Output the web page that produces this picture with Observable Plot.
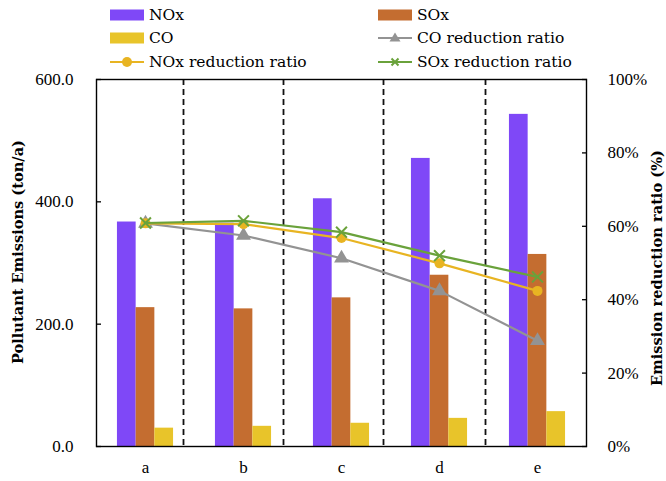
<!DOCTYPE html>
<html><head><meta charset="utf-8">
<script src="https://cdn.jsdelivr.net/npm/d3@7"></script>
<script src="https://cdn.jsdelivr.net/npm/@observablehq/plot@0.6"></script>
<style>
body{margin:0;background:#fff;font-family:"DejaVu Serif",serif;}
#legend{position:relative;width:666px;height:70px;}
.item{position:absolute;display:flex;align-items:center;height:20px;font-size:15.5px;color:#000;white-space:nowrap;}
.item span{margin-left:5px;}
</style></head><body>
<div id="legend"></div><div id="chart"></div>
<script>
// ---- data ----
const categories = ["a", "b", "c", "d", "e"];
const noxEmissions = [367, 365, 405, 471, 543];
const soxEmissions = [227, 225, 243, 280, 314];
const coEmissions = [30, 33, 38, 46, 57];
const noxRatio = [60.8, 60.6, 56.8, 49.9, 42.4];
const soxRatio = [60.9, 61.5, 58.4, 52.0, 46.2];
const coRatio = [60.8, 57.5, 51.3, 42.4, 28.8];
const leftTicks = [0, 200, 400, 600];
const rightTicks = [0, 20, 40, 60, 80, 100];
const seriesNames = ["NOx", "SOx", "CO", "CO reduction ratio", "NOx reduction ratio", "SOx reduction ratio"];

// ---- styles ----
const colors = {nox: "#7f48f7", sox: "#c46d30", co: "#e8c42a", coR: "#939393", noxR: "#e8b422", soxR: "#6aa23b"};
const W = 666, H = 411, mL = 96, mR = 80, mT = 9, mB = 35;
const ratioScale = 600 / 100; // right axis 0–100% mapped onto left 0–600
const bandW = (W - mL - mR) / categories.length;
const barW = 18.7;
const groupStart = bandW / 2 - 1.5 * barW;
const dividerDx = [38, 40, 42, 46];

const rows = categories.map((c, i) => ({
  cat: c, nox: noxEmissions[i], sox: soxEmissions[i], co: coEmissions[i],
  noxR: noxRatio[i], soxR: soxRatio[i], coR: coRatio[i]
}));

const barSeries = [
  {key: "nox", fill: colors.nox},
  {key: "sox", fill: colors.sox},
  {key: "co", fill: colors.co}
];
const lineSeries = [
  {key: "coR", stroke: colors.coR, symbol: "triangle", r: 5.5, marker: "fill"},
  {key: "noxR", stroke: colors.noxR, symbol: "circle", r: 5, marker: "fill"},
  {key: "soxR", stroke: colors.soxR, symbol: "times", r: 5, marker: "stroke"}
];

const marks = [];
barSeries.forEach((s, k) => {
  marks.push(Plot.barY(rows, {
    x: "cat", y: s.key, fill: s.fill,
    insetLeft: groupStart + k * barW,
    insetRight: bandW - groupStart - (k + 1) * barW
  }));
});
categories.slice(0, 4).forEach((c, i) => {
  marks.push(Plot.ruleX([c], {stroke: "#111", strokeWidth: 1.8, strokeDasharray: "6,4", dx: dividerDx[i]}));
});
lineSeries.forEach(s => {
  marks.push(Plot.line(rows, {x: "cat", y: d => d[s.key] * ratioScale, stroke: s.stroke, strokeWidth: 2.2}));
  marks.push(Plot.dot(rows, s.marker === "fill"
    ? {x: "cat", y: d => d[s.key] * ratioScale, symbol: s.symbol, r: s.r, fill: s.stroke, stroke: "none"}
    : {x: "cat", y: d => d[s.key] * ratioScale, symbol: s.symbol, r: s.r, stroke: s.stroke, strokeWidth: 2, fill: "none"}));
});
marks.push(Plot.frame({stroke: "#000", strokeWidth: 1.4}));
// left axis
marks.push(Plot.axisY(leftTicks, {anchor: "left", tickSize: 0, tickPadding: 23, tickFormat: d3.format(".1f"), label: null}));
marks.push(Plot.axisY(leftTicks, {anchor: "left", tickSize: 5, dx: 5, tickFormat: () => "", label: null, strokeWidth: 1.3}));
// right axis
const rightVals = rightTicks.map(p => p * ratioScale);
marks.push(Plot.axisY(rightVals, {anchor: "right", tickSize: 0, tickPadding: 21, tickFormat: d => Math.round(d / ratioScale) + "%", label: null}));
marks.push(Plot.axisY(rightVals, {anchor: "right", tickSize: 5, dx: -5, tickFormat: () => "", label: null, strokeWidth: 1.3}));
// x axis
marks.push(Plot.axisX({tickSize: 0, tickPadding: 14, label: null}));
// titles
marks.push(Plot.text(["Pollutant Emissions (ton/a)"], {frameAnchor: "left", textAnchor: "middle", rotate: -90, dx: -78, dy: -11, fontWeight: "bold", fontSize: 14.6, fontFamily: "DejaVu Serif", fill: "#000"}));
marks.push(Plot.text(["Emission reduction ratio (%)"], {frameAnchor: "right", textAnchor: "middle", rotate: -90, dx: 71, dy: 5, fontWeight: "bold", fontSize: 14.6, fontFamily: "DejaVu Serif", fill: "#000"}));

const chart = Plot.plot({
  width: W, height: H,
  marginLeft: mL, marginRight: mR, marginTop: mT, marginBottom: mB,
  style: {fontFamily: "Liberation Serif", fontSize: "17px", color: "#000", background: "#fff"},
  x: {type: "band", domain: categories, padding: 0},
  y: {domain: [0, 600]},
  marks
});
document.getElementById("chart").appendChild(chart);

// ---- legend ----
const legendItems = [
  {name: seriesNames[0], kind: "rect", color: colors.nox, x: 110, y: 15},
  {name: seriesNames[1], kind: "rect", color: colors.sox, x: 378, y: 15},
  {name: seriesNames[2], kind: "rect", color: colors.co, x: 110, y: 38},
  {name: seriesNames[3], kind: "line", color: colors.coR, symbol: "triangle", x: 378, y: 38},
  {name: seriesNames[4], kind: "line", color: colors.noxR, symbol: "circle", x: 110, y: 62},
  {name: seriesNames[5], kind: "line", color: colors.soxR, symbol: "times", x: 378, y: 62}
];
const legend = document.getElementById("legend");
legendItems.forEach(it => {
  const div = document.createElement("div");
  div.className = "item";
  div.style.left = it.x + "px";
  div.style.top = (it.y - 10) + "px";
  let svg = '<svg width="34" height="20" viewBox="0 0 34 20">';
  if (it.kind === "rect") {
    svg += `<rect x="0" y="4.5" width="34" height="11" fill="${it.color}"/>`;
  } else {
    svg += `<line x1="0" y1="10" x2="34" y2="10" stroke="${it.color}" stroke-width="2.2"/>`;
    if (it.symbol === "circle") svg += `<circle cx="17" cy="10" r="5" fill="${it.color}"/>`;
    if (it.symbol === "triangle") svg += `<path d="M17,4.5L22.5,13.5L11.5,13.5Z" fill="${it.color}"/>`;
    if (it.symbol === "times") svg += `<path d="M13.5,6.5L20.5,13.5M20.5,6.5L13.5,13.5" stroke="${it.color}" stroke-width="2"/>`;
  }
  svg += "</svg>";
  div.innerHTML = svg + `<span>${it.name}</span>`;
  legend.appendChild(div);
});
</script></body></html>
